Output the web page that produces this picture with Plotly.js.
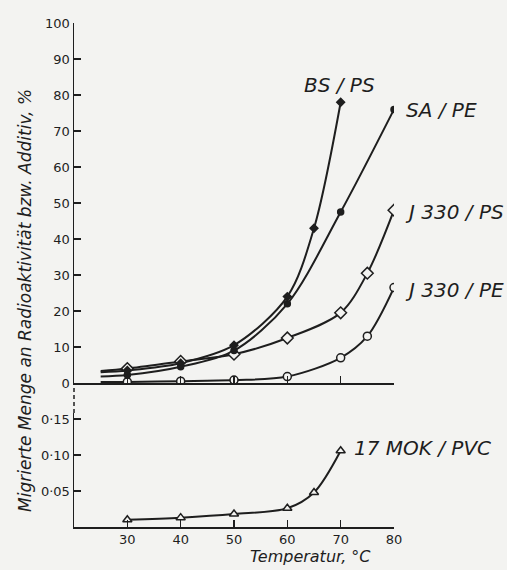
<!DOCTYPE html>
<html>
<head>
<meta charset="utf-8">
<script src="https://cdn.plot.ly/plotly-3.0.1.min.js"></script>
<style>html,body{margin:0;padding:0;background:#f3f3f1;}</style>
</head>
<body>
<div id="chart" style="width:507px;height:570px;"></div>
<script>
// Temperatures (°C) and migrated amounts (%)
const bsX = [30, 40, 50, 60, 65, 70];
const bsY = [3.5, 5.5, 10.5, 24, 43, 78];
const bsStart = 3;

const saX = [30, 40, 50, 60, 70, 80];
const saY = [2.2, 4.5, 9, 22, 47.5, 76];
const saStart = 1.8;

const j330psX = [30, 40, 50, 60, 70, 75, 80];
const j330psY = [4, 6, 8, 12.5, 19.5, 30.5, 48];
const j330psStart = 3.3;

const j330peX = [30, 40, 50, 60, 70, 75, 80];
const j330peY = [0.3, 0.5, 0.8, 1.8, 7, 13, 26.5];
const j330peStart = 0.3;

const mokX = [30, 40, 50, 60, 65, 70];
const mokY = [0.01, 0.013, 0.018, 0.026, 0.048, 0.106];

const curveStartX = 25;
const xTicks = [30, 40, 50, 60, 70, 80];
const upperTicks = [0, 10, 20, 30, 40, 50, 60, 70, 80, 90, 100];
const lowerTicks = [0.05, 0.10, 0.15];
const lowerTickText = ['0·05', '0·10', '0·15'];

const ink = '#1e1e1e';
const bg = '#f3f3f1';

function curve(x, y, start, xa, ya) {
  const xs = start === null ? x : [curveStartX].concat(x);
  const ys = start === null ? y : [start].concat(y);
  return {x: xs, y: ys, xaxis: xa, yaxis: ya, mode: 'lines', type: 'scatter',
    line: {color: ink, width: 2, shape: 'spline', smoothing: 0.9}, hoverinfo: 'skip', showlegend: false};
}
function marks(x, y, sym, filled, size, xa, ya) {
  return {x: x, y: y, xaxis: xa, yaxis: ya, mode: 'markers', type: 'scatter', showlegend: false,
    marker: {symbol: sym, size: size, color: filled ? ink : bg, line: {color: ink, width: 1.5}}};
}

const data = [
  curve(j330peX, j330peY, j330peStart, 'x2', 'y'),
  curve(j330psX, j330psY, j330psStart, 'x2', 'y'),
  curve(saX, saY, saStart, 'x2', 'y'),
  curve(bsX, bsY, bsStart, 'x2', 'y'),
  curve(mokX, mokY, null, 'x', 'y2'),
  marks(j330peX, j330peY, 'circle', false, 8, 'x2', 'y'),
  marks(j330psX, j330psY, 'diamond', false, 9, 'x2', 'y'),
  marks(saX, saY, 'circle', true, 6, 'x2', 'y'),
  marks(bsX, bsY, 'diamond', true, 6, 'x2', 'y'),
  marks(mokX, mokY, 'triangle-up', false, 8, 'x', 'y2')
];

const tickFont = {family: 'DejaVu Sans', size: 13, color: ink};
const axBase = {showline: true, linecolor: ink, linewidth: 1.5, ticks: 'inside', ticklen: 7,
  tickcolor: ink, tickwidth: 1.3, showgrid: false, zeroline: false, tickfont: tickFont, fixedrange: true};

const lab = {family: 'DejaVu Sans', size: 20, color: ink};
function px2x(p) { return (p - 74) / 320; }
function px2y(p) { return (527 - p) / 504; }
function label(text, left, cy) {
  return {text: '<i>' + text + '</i>', xref: 'paper', yref: 'paper', x: px2x(left), y: px2y(cy),
    xanchor: 'left', yanchor: 'middle', showarrow: false, font: lab};
}

const layout = {
  width: 507, height: 570,
  margin: {l: 74, r: 113, t: 23, b: 43},
  paper_bgcolor: bg, plot_bgcolor: bg,
  showlegend: false,
  xaxis: Object.assign({}, axBase, {range: [20, 80], anchor: 'y2', tickvals: xTicks, domain: [0, 1]}),
  xaxis2: Object.assign({}, axBase, {range: [20, 80], anchor: 'y', tickvals: xTicks, showticklabels: false, domain: [0, 1]}),
  yaxis: Object.assign({}, axBase, {range: [0, 100], domain: [px2y(383), 1], anchor: 'x2', tickvals: upperTicks}),
  yaxis2: Object.assign({}, axBase, {range: [0, (527 - 413) / 720], domain: [0, px2y(413)], anchor: 'x',
    tickvals: lowerTicks, ticktext: lowerTickText}),
  shapes: [
    {type: 'line', xref: 'paper', yref: 'paper', x0: 0, x1: 0, y0: px2y(413), y1: px2y(383),
     line: {color: ink, width: 1.5, dash: '4px,3px'}}
  ],
  annotations: [
    label('BS / PS', 302, 85),
    label('SA / PE', 404, 110),
    label('J 330 / PS', 403, 212),
    label('J 330 / PE', 403, 290),
    label('17 MOK / PVC', 352, 448),
    {text: '<i>Migrierte Menge an Radioaktivität bzw. Additiv, %</i>', xref: 'paper', yref: 'paper',
     x: px2x(25), y: px2y(301), xanchor: 'center', yanchor: 'middle', textangle: -90, showarrow: false,
     font: {family: 'DejaVu Sans', size: 17, color: ink}},
    {text: '<i>Temperatur, °C</i>', xref: 'paper', yref: 'paper',
     x: px2x(310), y: px2y(556), xanchor: 'center', yanchor: 'middle', showarrow: false,
     font: {family: 'DejaVu Sans', size: 16, color: ink}}
  ]
};

Plotly.newPlot('chart', data, layout, {displayModeBar: false, staticPlot: true});
</script>
</body>
</html>
